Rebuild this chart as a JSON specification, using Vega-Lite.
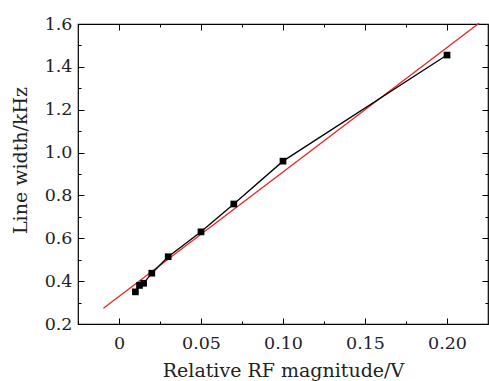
{
  "$schema": "https://vega.github.io/schema/vega-lite/v6.json",
  "width": 410,
  "height": 300,
  "autosize": "none",
  "padding": {"left": 78, "top": 24, "right": 1, "bottom": 57},
  "config": {
    "view": {"stroke": "black", "strokeWidth": 1.2},
    "axis": {"labelFont": "DejaVu Serif", "titleFont": "DejaVu Serif", "labelColor": "#222", "titleColor": "#222", "labelFontSize": 17.5, "titleFontSize": 19, "titleFontWeight": "normal", "grid": false, "domainColor": "black", "tickColor": "black"}
  },
  "datasets": {
    "pts": [
      {"x": 0.01, "y": 0.35},
      {"x": 0.0125, "y": 0.38},
      {"x": 0.015, "y": 0.39},
      {"x": 0.02, "y": 0.437},
      {"x": 0.03, "y": 0.514},
      {"x": 0.05, "y": 0.63},
      {"x": 0.07, "y": 0.76},
      {"x": 0.1, "y": 0.96},
      {"x": 0.2, "y": 1.455}
    ],
    "fit": [
      {"x": -0.0095, "y": 0.274},
      {"x": 0.2195, "y": 1.604}
    ]
  },
  "resolve": {"axis": {"x": "independent", "y": "independent"}},
  "layer": [
    {
      "data": {"name": "fit"},
      "mark": {"type": "line", "color": "#f02020", "strokeWidth": 1.3},
      "encoding": {
        "x": {"field": "x", "type": "quantitative", "scale": {"domain": [-0.025, 0.225], "nice": false, "zero": false},
          "axis": {"orient": "bottom", "title": "Relative RF magnitude/V", "values": [0, 0.05, 0.1, 0.15, 0.2], "ticks": false, "domain": false, "labelPadding": 10, "titlePadding": 10, "labelExpr": "datum.value == 0 ? '0' : format(datum.value, '.2f')"}},
        "y": {"field": "y", "type": "quantitative", "scale": {"domain": [0.2, 1.6], "nice": false, "zero": false},
          "axis": {"orient": "left", "title": "Line width/kHz", "titleY": 136, "values": [0.2, 0.4, 0.6, 0.8, 1.0, 1.2, 1.4, 1.6], "ticks": false, "domain": false, "labelPadding": 6, "titlePadding": 14, "format": ".1f"}}
      }
    },
    {
      "data": {"name": "pts"},
      "mark": {"type": "line", "color": "black", "strokeWidth": 1.3},
      "encoding": {
        "x": {"field": "x", "type": "quantitative", "axis": null},
        "y": {"field": "y", "type": "quantitative", "axis": null}
      }
    },
    {
      "data": {"name": "pts"},
      "mark": {"type": "square", "color": "black", "opacity": 1, "size": 45},
      "encoding": {
        "x": {"field": "x", "type": "quantitative", "axis": null},
        "y": {"field": "y", "type": "quantitative", "axis": null}
      }
    },
    {
      "data": {"name": "pts"},
      "mark": {"type": "point", "opacity": 0},
      "encoding": {
        "x": {"field": "x", "type": "quantitative", "axis": {"orient": "bottom", "title": null, "labels": false, "domain": false, "values": [0, 0.05, 0.1, 0.15, 0.2], "tickSize": -6, "tickWidth": 1}},
        "y": {"field": "y", "type": "quantitative", "axis": {"orient": "left", "title": null, "labels": false, "domain": false, "values": [0.4, 0.6, 0.8, 1.0, 1.2, 1.4], "tickSize": -6, "tickWidth": 1}}
      }
    },
    {
      "data": {"name": "pts"},
      "mark": {"type": "point", "opacity": 0},
      "encoding": {
        "x": {"field": "x", "type": "quantitative", "axis": {"orient": "top", "title": null, "labels": false, "domain": false, "values": [0, 0.05, 0.1, 0.15, 0.2], "tickSize": -6, "tickWidth": 1}},
        "y": {"field": "y", "type": "quantitative", "axis": {"orient": "right", "title": null, "labels": false, "domain": false, "values": [0.4, 0.6, 0.8, 1.0, 1.2, 1.4], "tickSize": -6, "tickWidth": 1}}
      }
    },
    {
      "data": {"name": "pts"},
      "mark": {"type": "point", "opacity": 0},
      "encoding": {
        "x": {"field": "x", "type": "quantitative", "axis": {"orient": "bottom", "title": null, "labels": false, "domain": false, "values": [-0.025, 0.025, 0.075, 0.125, 0.175], "tickSize": -3, "tickWidth": 1}},
        "y": {"field": "y", "type": "quantitative", "axis": {"orient": "left", "title": null, "labels": false, "domain": false, "values": [0.3, 0.5, 0.7, 0.9, 1.1, 1.3, 1.5], "tickSize": -3, "tickWidth": 1}}
      }
    },
    {
      "data": {"name": "pts"},
      "mark": {"type": "point", "opacity": 0},
      "encoding": {
        "x": {"field": "x", "type": "quantitative", "axis": {"orient": "top", "title": null, "labels": false, "domain": false, "values": [-0.025, 0.025, 0.075, 0.125, 0.175], "tickSize": -3, "tickWidth": 1}},
        "y": {"field": "y", "type": "quantitative", "axis": {"orient": "right", "title": null, "labels": false, "domain": false, "values": [0.3, 0.5, 0.7, 0.9, 1.1, 1.3, 1.5], "tickSize": -3, "tickWidth": 1}}
      }
    }
  ]
}
